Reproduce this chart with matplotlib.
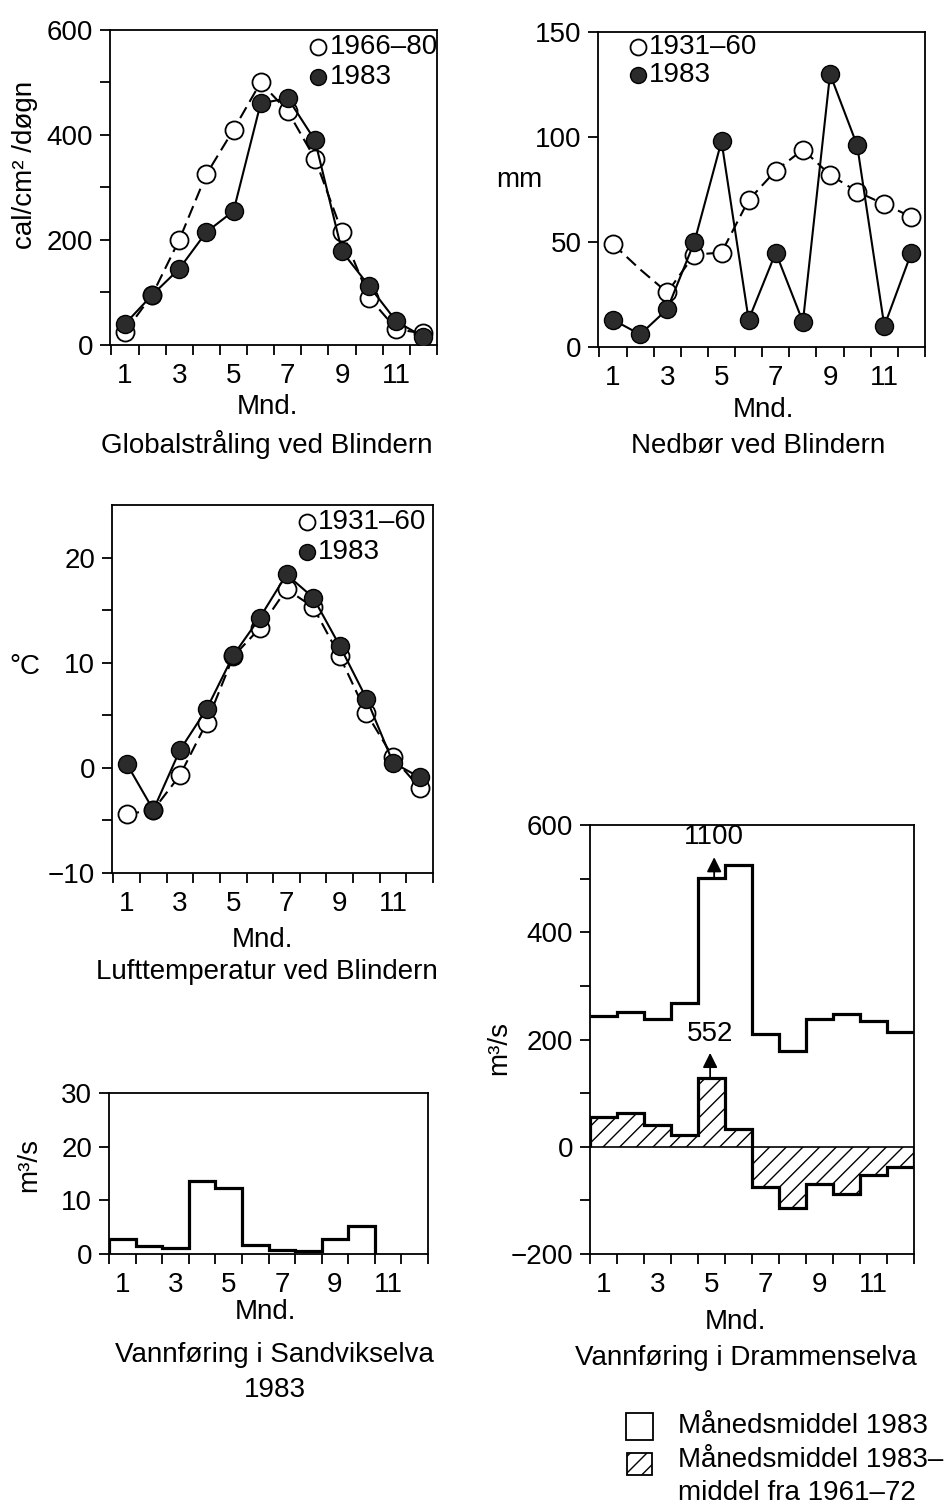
import numpy as np
import matplotlib
matplotlib.use("Agg")
import matplotlib.pyplot as plt
from matplotlib.patches import Rectangle

plt.rcParams['font.family'] = ['Liberation Sans', 'DejaVu Sans']
plt.rcParams['font.size'] = 20
plt.rcParams['axes.linewidth'] = 1.3
plt.rcParams['hatch.linewidth'] = 1.0

# --- data ---
months = np.arange(1, 13)
edges = np.arange(0.5, 13.0, 1.0)
odd_months = [1, 3, 5, 7, 9, 11]

glob_norm = [25, 95, 200, 325, 410, 500, 445, 355, 215, 90, 30, 22]
glob_1983 = [40, 95, 145, 215, 255, 460, 470, 390, 178, 112, 45, 15]

nedbor_norm = [49, 37, 26, 44, 45, 70, 84, 94, 82, 74, 68, 62]
nedbor_1983 = [13, 6, 18, 50, 98, 13, 45, 12, 130, 96, 10, 45]

temp_norm = [-4.4, -4.0, -0.7, 4.3, 10.6, 13.3, 17.0, 15.3, 10.6, 5.2, 1.0, -1.9]
temp_1983 = [0.4, -4.0, 1.7, 5.6, 10.7, 14.3, 18.4, 16.2, 11.6, 6.6, 0.5, -0.9]

sandvik_1983 = [2.8, 1.4, 1.1, 13.6, 12.2, 1.7, 0.7, 0.5, 2.8, 5.2]

dram_1983 = [244, 252, 238, 268, 502, 525, 210, 178, 238, 248, 234, 214]
dram_diff = [55, 62, 40, 21, 129, 34, -76, -115, -70, -89, -52, -37]
peak_labels = ['1100', '552']

dark = '#2b2b2b'


def month_axis(ax, xlim=(0.45, 12.5)):
    ax.set_xlim(*xlim)
    ax.set_xticks(odd_months)
    ax.set_xticks(edges, minor=True)
    ax.tick_params(axis='x', which='major', length=0, pad=13)
    ax.tick_params(axis='x', which='minor', length=7, width=1.3, direction='out')
    ax.tick_params(axis='y', which='both', length=7, width=1.3, direction='out', pad=5)
    ax.set_xlabel('Mnd.', va='center')


def labels(ax, ylab, ypos, xpos, title, tpos, rotate=True):
    if rotate:
        ax.set_ylabel(ylab, va='center', ha='center')
    else:
        ax.set_ylabel(ylab, rotation=0, va='center', ha='center')
    ax.yaxis.set_label_coords(*ypos)
    ax.xaxis.set_label_coords(*xpos)
    ax.text(tpos[0], tpos[1], title, transform=ax.transAxes,
            ha='center', va='center')


def key(ax, x, ys, names):
    ax.plot(x, ys[0], 'o', ms=11.5, mfc='white', mec='black', mew=1.3,
            transform=ax.transAxes, clip_on=False)
    ax.plot(x, ys[1], 'o', ms=11.5, mfc=dark, mec='black', mew=1.0,
            transform=ax.transAxes, clip_on=False)
    ax.text(x + 0.035, ys[0], names[0], transform=ax.transAxes, va='center')
    ax.text(x + 0.035, ys[1], names[1], transform=ax.transAxes, va='center')


def two_series(ax, norm, y83, mark_norm=None):
    ax.plot(months, norm, color='black', lw=1.5, ls=(0, (6, 3)), marker='o',
            ms=13, mfc='white', mec='black', mew=1.3, markevery=mark_norm, zorder=3)
    ax.plot(months, y83, color='black', lw=1.5, marker='o', ms=13,
            mfc=dark, mec='black', mew=1.0, zorder=4)


fig = plt.figure(figsize=(9.47, 15.05), dpi=100)

# Globalstråling
ax1 = fig.add_axes([0.1162, 0.7708, 0.3453, 0.2093])
two_series(ax1, glob_norm, glob_1983)
month_axis(ax1)
ax1.set_ylim(0, 600)
ax1.set_yticks([0, 200, 400, 600])
ax1.set_yticks([100, 300, 500], minor=True)
labels(ax1, 'cal/cm² /døgn', (-0.26, 0.57), (0.48, -0.197),
       'Globalstråling ved Blindern', (0.48, -0.317))
key(ax1, 0.636, [0.946, 0.851], ['1966–80', '1983'])

# Nedbør
ax2 = fig.add_axes([0.6315, 0.7694, 0.3453, 0.2093])
two_series(ax2, nedbor_norm, nedbor_1983, mark_norm=[0] + list(range(2, 12)))
month_axis(ax2)
ax2.set_ylim(0, 150)
ax2.set_yticks([0, 50, 100, 150])
labels(ax2, 'mm', (-0.24, 0.53), (0.505, -0.2),
       'Nedbør ved Blindern', (0.49, -0.314), rotate=False)
key(ax2, 0.122, [0.952, 0.863], ['1931–60', '1983'])

# Lufttemperatur
ax3 = fig.add_axes([0.1183, 0.4199, 0.3390, 0.2445])
two_series(ax3, temp_norm, temp_1983)
month_axis(ax3)
ax3.set_ylim(-10, 25)
ax3.set_yticks([-10, 0, 10, 20])
ax3.set_yticks([-5, 5, 15], minor=True)
labels(ax3, '°C', (-0.27, 0.56), (0.47, -0.182),
       'Lufttemperatur ved Blindern', (0.483, -0.269), rotate=False)
key(ax3, 0.607, [0.954, 0.872], ['1931–60', '1983'])

# Vannføring i Sandvikselva
ax4 = fig.add_axes([0.1151, 0.1668, 0.3369, 0.1070])
ax4.stairs(sandvik_1983, edges[:len(sandvik_1983) + 1], baseline=0,
           color='black', lw=2.3)
month_axis(ax4, (0.5, 12.5))
ax4.set_ylim(0, 30)
ax4.set_yticks([0, 10, 20, 30])
labels(ax4, 'm³/s', (-0.25, 0.55), (0.49, -0.36),
       'Vannføring i Sandvikselva', (0.52, -0.627))
ax4.text(0.52, -0.845, '1983', transform=ax4.transAxes, ha='center', va='center')

# Vannføring i Drammenselva
ax5 = fig.add_axes([0.6230, 0.1668, 0.3421, 0.2850])
ax5.axhline(0, color='black', lw=1.2)
ax5.stairs(dram_diff, edges, baseline=0, fill=True, facecolor='none',
           edgecolor='black', hatch='//', lw=0)
ax5.stairs(dram_diff, edges, baseline=0, color='black', lw=2.3)
ax5.stairs(dram_1983, edges, baseline=None, color='black', lw=2.3)
month_axis(ax5, (0.5, 12.5))
ax5.set_ylim(-200, 600)
ax5.set_yticks([-200, 0, 200, 400, 600])
ax5.set_yticks([-100, 100, 300, 500], minor=True)
labels(ax5, 'm³/s', (-0.28, 0.48), (0.45, -0.159),
       'Vannføring i Drammenselva', (0.48, -0.242))

# off-scale peaks in May
ax5.annotate('', xy=(5.1, 540), xytext=(5.1, dram_1983[4]),
             arrowprops=dict(arrowstyle='-|>', color='black', lw=1.3,
                             mutation_scale=22, shrinkA=0, shrinkB=0))
ax5.text(5.1, 578, peak_labels[0], ha='center', va='center')
ax5.annotate('', xy=(4.95, 175), xytext=(4.95, dram_diff[4]),
             arrowprops=dict(arrowstyle='-|>', color='black', lw=1.3,
                             mutation_scale=22, shrinkA=0, shrinkB=0))
ax5.text(4.95, 211, peak_labels[1], ha='center', va='center')

# key for the Drammenselva panel
fig.add_artist(Rectangle((626 / 947, 1 - 1440 / 1505), 27 / 947, 27 / 1505,
                         transform=fig.transFigure, facecolor='white',
                         edgecolor='black', lw=1.3))
fig.add_artist(Rectangle((627 / 947, 1 - 1475 / 1505), 25 / 947, 22 / 1505,
                         transform=fig.transFigure, facecolor='white',
                         edgecolor='black', lw=1.3, hatch='//'))
fig.text(678 / 947, 1 - 1426 / 1505, 'Månedsmiddel 1983', va='center')
fig.text(678 / 947, 1 - 1460 / 1505, 'Månedsmiddel 1983–', va='center')
fig.text(678 / 947, 1 - 1493 / 1505, 'middel fra 1961–72', va='center')

fig.savefig('out.png', dpi=100)
